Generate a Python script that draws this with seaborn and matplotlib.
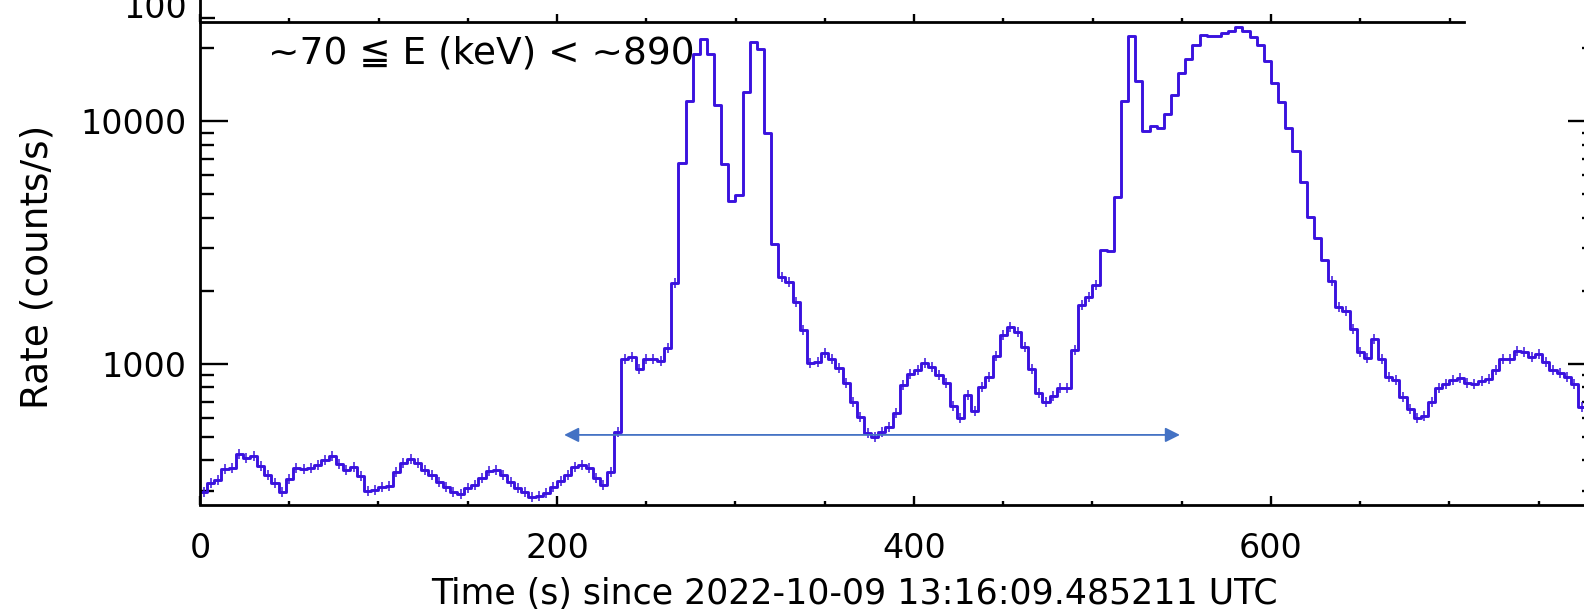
import numpy as np
import pandas as pd
import matplotlib
matplotlib.use("Agg")
from matplotlib import pyplot as plt
from matplotlib.ticker import MultipleLocator, NullFormatter, LogLocator
import seaborn as sns

# light curve, 4 s bins starting at t = 0 (counts/s)
bin_width = 4.0
rate_quiet = [298, 323, 333, 368, 372, 427, 409, 418, 380, 350,
              323, 296, 336, 372, 370, 374, 384, 403, 416, 387,
              366, 375, 345, 300, 302, 312, 315, 357, 390, 405,
              390, 364, 347, 326, 311, 298, 292, 308, 318, 340,
              362, 366, 350, 325, 308, 298, 282, 286, 295, 312,
              330, 350, 375, 385, 372, 340, 318, 357, 523]
rate_flare1 = [1050, 1072, 951, 1050, 1045, 1031, 1160, 2161, 6760, 12130,
               18990, 21880, 18990, 11640, 6700, 4700, 4960, 13210, 21210, 19900,
               8980, 3118, 2286, 2182, 1805, 1380, 1007, 1016, 1107, 1045,
               960, 833, 700, 607]
rate_bumps = [519, 502, 523, 549, 630, 820, 910, 945, 1012, 975,
              901, 838, 672, 597, 745, 637, 807, 881, 1082, 1316,
              1415, 1359, 1171, 951, 762, 700, 738, 794, 794, 1142,
              1750, 1882, 2113, 2944, 2930]
rate_flare2 = [4880, 12130, 22590, 14650, 9180, 9540, 9420, 10690, 12920, 15810,
               18120, 20690, 22800, 22440, 22590, 23090, 23690, 24600, 23530, 22390,
               20690, 17830, 14380, 12010, 9420, 7523, 5627, 4036, 3310, 2680,
               2203, 1722, 1652, 1389, 1124, 1062, 1263, 1045, 887, 859,
               733, 651, 597, 611, 700, 794]
rate_tail = [827, 859, 873, 838, 825, 851, 865, 945, 1045, 1045,
             1134, 1117, 1065, 1099, 1022, 945, 921, 887, 827, 667,
             597]

xtick_vals = [0, 200, 400, 600]
xtick_labels = ["0", "200", "400", "600"]
ytick_vals = [1000, 10000]
ytick_labels = ["1000", "10000"]

energy_label = "~70 \u2266 E (keV) < ~890"
xlabel_text = "Time (s) since 2022-10-09 13:16:09.485211 UTC"
ylabel_text = "Rate (counts/s)"
arrow_t = [204, 549]
arrow_rate = 510

line_color = "#3a12de"
arrow_color = "#4472c4"

sns.set_style("ticks")
plt.rcParams["font.family"] = ["DejaVu Sans", "Noto Sans CJK JP"]
plt.rcParams.update({"text.color": "black", "axes.labelcolor": "black",
                     "axes.edgecolor": "black", "xtick.color": "black",
                     "ytick.color": "black"})

rates = np.array(rate_quiet + rate_flare1 + rate_bumps + rate_flare2 + rate_tail, dtype=float)
t_start = np.arange(len(rates)) * bin_width
df = pd.DataFrame({"time": np.append(t_start, t_start[-1] + bin_width),
                   "rate": np.append(rates, rates[-1])})

W, H = 1584, 613
fig = plt.figure(figsize=(W / 100, H / 100), dpi=100)
ax = fig.add_axes([200 / W, 108.5 / H, 1396 / W, 482.5 / H])
ax_up = fig.add_axes([200 / W, 591 / H, 1264 / W, 0.3], facecolor="none")

sns.lineplot(data=df, x="time", y="rate", ax=ax, drawstyle="steps-post",
             color=line_color, linewidth=2.1, estimator=None, sort=False)
low = rates < 2500
ax.plot(t_start[low] + bin_width / 2, rates[low], ls="none", marker="|",
        ms=6.5, mew=1.1, color=line_color)

ax.set_yscale("log")
ax.set_xlim(0, 782.1)
ax.set_ylim(263.4, 25720)

ax.spines["top"].set_visible(False)
for s in ["left", "bottom", "right"]:
    ax.spines[s].set_linewidth(2.0)
    ax.spines[s].set_color("black")

ax.set_xticks(xtick_vals, labels=xtick_labels)
ax.xaxis.set_minor_locator(MultipleLocator(50))
ax.set_yticks(ytick_vals, labels=ytick_labels)
ax.yaxis.set_minor_locator(LogLocator(base=10, subs=np.arange(2, 10)))
ax.yaxis.set_minor_formatter(NullFormatter())
ax.tick_params(axis="x", which="major", direction="in", length=6.7, width=1.7,
               pad=19.8, labelsize=24, top=False, colors="black")
ax.tick_params(axis="x", which="minor", direction="in", length=2.9, width=1.7,
               top=False, colors="black")
ax.tick_params(axis="y", which="major", direction="in", length=20, width=1.7,
               pad=9.5, labelsize=24, right=True, colors="black")
ax.tick_params(axis="y", which="minor", direction="in", length=10, width=1.7,
               right=True, colors="black")

ax.set_xlabel(xlabel_text, fontsize=25, color="black")
ax.xaxis.set_label_coords(0.4685, -0.1503)
ax.set_ylabel(ylabel_text, fontsize=27, color="black")
ax.yaxis.set_label_coords(-0.1036, 0.492)

ax.text(0.0487, 0.9144, energy_label, transform=ax.transAxes, fontsize=27,
        ha="left", va="baseline", color="black")
ax.annotate("", xy=(arrow_t[0], arrow_rate), xytext=(arrow_t[1], arrow_rate),
            arrowprops=dict(arrowstyle="<|-|>", color=arrow_color, lw=1.3,
                            mutation_scale=22, shrinkA=0, shrinkB=0))

# bottom edge of the panel above
ax_up.set_xlim(0, 708.1)
ax_up.set_ylim(0, 1)
ax_up.spines["top"].set_visible(False)
ax_up.spines["right"].set_visible(False)
for s in ["left", "bottom"]:
    ax_up.spines[s].set_linewidth(2.0)
    ax_up.spines[s].set_color("black")
ax_up.set_xticks(xtick_vals)
ax_up.xaxis.set_minor_locator(MultipleLocator(50))
ax_up.tick_params(axis="x", which="both", direction="in", labelbottom=False,
                  width=1.7, colors="black")
ax_up.tick_params(axis="x", which="major", length=6)
ax_up.tick_params(axis="x", which="minor", length=3.2)
ax_up.set_yticks([4 / (0.3 * H)], labels=["100"])
ax_up.tick_params(axis="y", direction="in", length=10.8, width=1.7, labelsize=24,
                  pad=9.5, colors="black")
for lbl in ax_up.get_yticklabels():
    lbl.set_va("baseline")
    lbl.set_y(1.5 / (0.3 * H))

fig.savefig("out.png", dpi=100)
